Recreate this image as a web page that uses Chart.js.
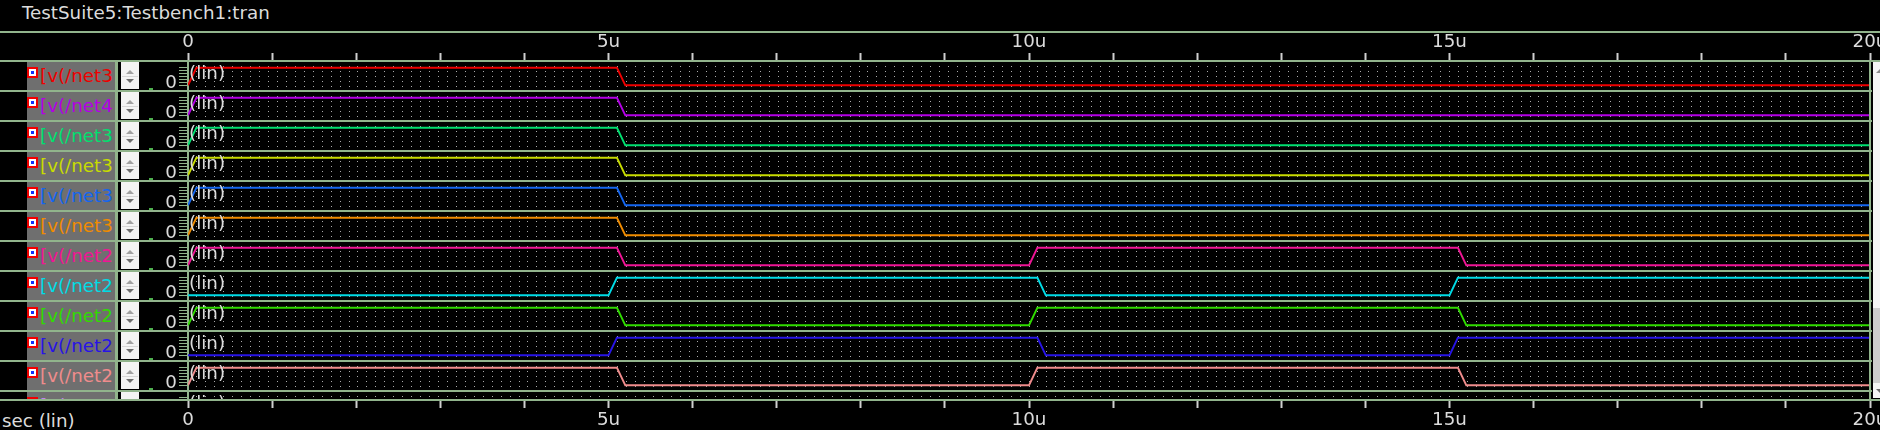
<!DOCTYPE html>
<html>
<head>
<meta charset="utf-8">
<script src="https://cdn.jsdelivr.net/npm/chart.js@4.4.1/dist/chart.umd.min.js"></script>
<style>
  html, body { margin: 0; padding: 0; background: #000; width: 1880px; height: 430px; overflow: hidden;
               font-family: 'DejaVu Sans', sans-serif; }
  #title { position: absolute; left: 22px; top: 3px; font-size: 18.3px; line-height: 20px; color: #dcdcdc; white-space: nowrap; }
  #xunit { position: absolute; left: 2px; top: 411px; font-size: 18.3px; line-height: 20px; color: #dcdcdc; white-space: nowrap; }
  #panel { position: absolute; left: 0; top: 61px; width: 188px; height: 339px; overflow: hidden; }
  .row { position: absolute; left: 0; width: 188px; height: 30px; }
  .gray { position: absolute; left: 27px; top: 0; width: 88px; height: 30px; background: #6f6f6f; }
  .icon { position: absolute; left: 27px; top: 6px; width: 7px; height: 7px; border: 2px solid #f00000; background: #fff; }
  .icon i { position: absolute; left: 2px; top: 2px; width: 3px; height: 3px; background: #1030ff; }
  .name { position: absolute; left: 40px; top: 5px; width: 75px; overflow: hidden; white-space: nowrap;
          font-size: 18.3px; line-height: 20px; }
  .spin { position: absolute; left: 121px; top: 1px; width: 18px; height: 27px; background: #f3f3f3; }
  .spin .up { position: absolute; left: 5px; top: 8px; width: 0; height: 0;
              border-left: 4px solid transparent; border-right: 4px solid transparent; border-bottom: 4px solid #a0a0a0; }
  .spin .sep { position: absolute; left: 1px; top: 14px; width: 16px; height: 1px; background: #d6d6d6; }
  .spin .dn { position: absolute; left: 5px; top: 17px; width: 0; height: 0;
              border-left: 4px solid transparent; border-right: 4px solid transparent; border-top: 4px solid #6c6c6c; }
  .dash { position: absolute; left: 149px; top: 27px; width: 4px; height: 2px; background: #4fb04f; }
  #vscroll { position: absolute; left: 1873px; top: 62px; width: 14px; height: 336px; background: #f5f5f5; }
  #vscroll .up { position: absolute; left: 3px; top: 7px; width: 0; height: 0;
                 border-left: 4px solid transparent; border-right: 4px solid transparent; border-bottom: 4px solid #8a8a8a; }
  #vscroll .thumb { position: absolute; left: 0; top: 246px; width: 14px; height: 75px; background: #cdcdcd; }
  #vscroll .dn { position: absolute; left: 3px; top: 327px; width: 0; height: 0;
                 border-left: 4px solid transparent; border-right: 4px solid transparent; border-top: 4px solid #6c6c6c; }
  #c { position: absolute; left: 0; top: 0; z-index: 2; }
</style>
</head>
<body>
<div id="title">TestSuite5:Testbench1:tran</div>
<div id="panel"></div>
<div id="vscroll"><div class="up"></div><div class="thumb"></div><div class="dn"></div></div>
<div id="xunit">sec (lin)</div>
<canvas id="c" width="1880" height="430"></canvas>
<script>
// signal names shown in the left column (clipped as in the viewer)
const rowLabels = ['[v(/net3', '[v(/net4', '[v(/net3', '[v(/net3', '[v(/net3', '[v(/net3',
                   '[v(/net2', '[v(/net2', '[v(/net2', '[v(/net2', '[v(/net2', '[v(/net5'];
const rowColors = ['#ee0000', '#b400e6', '#00e070', '#c8dc00', '#1466f0', '#f08c00',
                   '#f01496', '#00dce6', '#30dc00', '#2814e6', '#f08c8c', '#c080f0'];

// waveform corners, time in us, voltage in V
const stepTimes = [0, 0.1, 5.1, 5.2, 20];
const stepVolts = [0, 1.8, 1.8, 0, 0];
const clkTimes  = [0, 0.1, 5.1, 5.2, 10, 10.1, 15.1, 15.2, 20];
const clkVolts  = [0, 1.8, 1.8, 0, 0, 1.8, 1.8, 0, 0];
const clkbTimes = [0, 5, 5.1, 10.1, 10.2, 15, 15.1, 20];
const clkbVolts = [0, 0, 1.8, 1.8, 0, 0, 1.8, 1.8];
// which shape each visible row carries (last row is cut off, no trace)
const rowWave = ['step', 'step', 'step', 'step', 'step', 'step', 'clk', 'clkb', 'clk', 'clkb', 'clk'];

// axis ticks
const timeTicks  = [0, 1, 2, 3, 4, 5, 6, 7, 8, 9, 10, 11, 12, 13, 14, 15, 16, 17, 18, 19, 20];
const timeLabels = ['0', '', '', '', '', '5u', '', '', '', '', '10u', '', '', '', '', '15u', '', '', '', '', '20u'];
const voltTicks  = [0, 0.3, 0.6, 0.9, 1.2, 1.5, 1.8];

const waves = {
  step: [stepTimes, stepVolts],
  clk:  [clkTimes, clkVolts],
  clkb: [clkbTimes, clkbVolts]
};

const LINE = '#91b48c';
const TEXT = '#dcdcdc';
const Y_MIN = -0.58, Y_MAX = 2.48;
const GRID_DIVS = 188;

// left column
const panel = document.getElementById('panel');
rowLabels.forEach((name, i) => {
  const row = document.createElement('div');
  row.className = 'row';
  row.style.top = (i * 30) + 'px';
  row.innerHTML = '<div class="gray"></div><div class="icon"><i></i></div>' +
    '<div class="name" style="color:' + rowColors[i] + '">' + name + '</div>' +
    '<div class="spin"><div class="up"></div><div class="sep"></div><div class="dn"></div></div>' +
    '<div class="dash"></div>';
  panel.appendChild(row);
});

Chart.defaults.font.family = "'DejaVu Sans', sans-serif";
Chart.defaults.font.size = 18.3;

const datasets = rowWave.map((w, i) => {
  const [ts, vs] = waves[w];
  return {
    label: rowLabels[i],
    data: ts.map((t, k) => ({ x: t, y: vs[k] })),
    xAxisID: 'x',
    yAxisID: 'y' + i,
    borderColor: rowColors[i],
    borderWidth: 2,
    pointRadius: 0,
    tension: 0,
    fill: false
  };
});

function timeAxis(pos, pad) {
  return {
    type: 'linear',
    position: pos,
    min: 0,
    max: 20,
    afterBuildTicks(s) { s.ticks = timeTicks.map(v => ({ value: v })); },
    afterFit(s) { s.height = 30; s.paddingLeft = 0; s.paddingRight = 0; },
    ticks: { autoSkip: false, maxRotation: 0, padding: pad, color: TEXT, callback: (v, i) => timeLabels[i] },
    grid: { drawOnChartArea: false, drawTicks: true, tickLength: 8, tickColor: '#cfcfcf', tickWidth: 2 },
    border: { display: false }
  };
}

const scales = {
  x: timeAxis('bottom', 1),
  xt: timeAxis('top', 0),
  // dotted background grid
  xg: {
    type: 'linear',
    position: 'bottom',
    min: 0,
    max: 20,
    afterBuildTicks(s) {
      const t = [];
      for (let k = 0; k <= GRID_DIVS; k++) t.push({ value: 20 * k / GRID_DIVS });
      s.ticks = t;
    },
    afterFit(s) { s.height = 0; s.paddingLeft = 0; s.paddingRight = 0; },
    ticks: { display: false, autoSkip: false },
    grid: { drawTicks: false, color: '#ababab', lineWidth: 1 },
    border: { display: false, dash: [1, 4] }
  }
};

rowLabels.forEach((_, i) => {
  const partial = i === rowLabels.length - 1;
  scales['y' + i] = {
    type: 'linear',
    position: 'left',
    stack: 'rows',
    stackWeight: partial ? 9 : 30,
    weight: rowLabels.length - i,
    min: partial ? Y_MAX - (Y_MAX - Y_MIN) * 9 / 30 : Y_MIN,
    max: Y_MAX,
    afterBuildTicks(s) {
      s.ticks = voltTicks.filter(v => v >= s.min && v <= s.max).map(v => ({ value: v }));
    },
    afterFit(s) { s.width = 30; s.paddingTop = 0; s.paddingBottom = 0; },
    ticks: { autoSkip: false, padding: 2, labelOffset: -2, color: TEXT, callback: v => (v === 0 ? '0' : '') },
    grid: { drawOnChartArea: false, tickLength: 9, tickColor: LINE, tickWidth: 1 },
    border: { color: LINE, width: 2 }
  };
});

// strip dividers, "(lin)" tags, frame lines
const overlay = {
  id: 'overlay',
  afterDraw(chart) {
    const ctx = chart.ctx;
    const area = chart.chartArea;
    ctx.save();
    ctx.beginPath();
    ctx.rect(0, 0, 1880, area.bottom);
    ctx.clip();
    ctx.font = "18.3px 'DejaVu Sans', sans-serif";
    ctx.fillStyle = TEXT;
    ctx.textBaseline = 'middle';
    ctx.textAlign = 'left';
    rowLabels.forEach((_, i) => {
      const s = chart.scales['y' + i];
      ctx.fillText('(lin)', area.left + 1, s.top + 13);
    });
    ctx.restore();

    ctx.save();
    ctx.fillStyle = LINE;
    ctx.fillRect(0, 31, 1880, 2);
    rowLabels.forEach((_, i) => {
      const s = chart.scales['y' + i];
      ctx.fillRect(0, s.top - 1, i === 0 ? 1880 : 1872, 2);
    });
    ctx.fillRect(0, area.bottom - 1, 1880, 2);
    ctx.fillRect(115, area.top, 3, area.bottom - area.top);
    ctx.fillRect(area.right - 1, area.top, 2, area.bottom - area.top);
    ctx.restore();
  }
};

new Chart(document.getElementById('c'), {
  type: 'line',
  data: { datasets },
  options: {
    responsive: false,
    animation: false,
    events: [],
    layout: { padding: { left: 158, right: 10, top: 31, bottom: 0 } },
    plugins: { legend: { display: false }, tooltip: { enabled: false } },
    scales
  },
  plugins: [overlay]
});
</script>
</body>
</html>
